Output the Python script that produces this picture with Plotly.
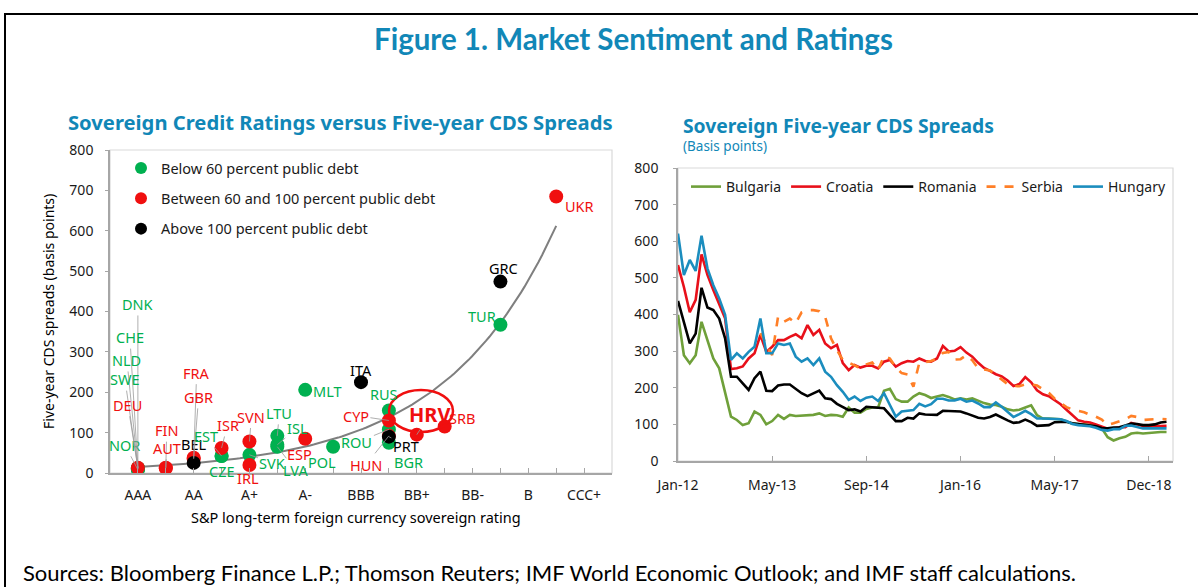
import numpy as np
import plotly.graph_objects as go

W, H = 1198, 587

# ---------------- Left chart data ----------------
rating_scale = ["AAA", "AA+", "AA", "AA-", "A+", "A", "A-", "BBB+", "BBB", "BBB-",
                "BB+", "BB", "BB-", "B+", "B", "B-", "CCC+"]
rating_tick_labels = ["AAA", "AA", "A+", "A-", "BBB", "BB+", "BB-", "B", "CCC+"]

countries = ["NOR", "DNK", "CHE", "NLD", "SWE", "DEU", "FIN", "AUT", "BEL", "FRA", "GBR",
             "EST", "CZE", "ISR", "SVN", "SVK", "IRL", "LTU", "LVA", "ISL", "ESP", "MLT",
             "POL", "ITA", "RUS", "CYP", "ROU", "HUN", "PRT", "BGR", "HRV", "SRB", "TUR",
             "GRC", "UKR"]
ratings = ["AAA", "AAA", "AAA", "AAA", "AAA", "AAA", "AA+", "AA+", "AA", "AA", "AA",
           "AA-", "AA-", "AA-", "A+", "A+", "A+", "A", "A", "A", "A-", "A-",
           "BBB+", "BBB", "BBB-", "BBB-", "BBB-", "BBB-", "BBB-", "BBB-", "BB+", "BB", "B+",
           "B+", "B-"]
cds_5y = [8, 10, 12, 10, 12, 13, 12, 13, 25, 38, 35,
          42, 42, 62, 78, 45, 20, 92, 65, 70, 85, 206,
          65, 225, 155, 130, 108, 92, 90, 75, 95, 115, 367,
          474, 685]
debt_group = ["low", "low", "low", "low", "low", "mid", "mid", "mid", "high", "mid", "mid",
              "low", "low", "mid", "mid", "low", "mid", "low", "low", "low", "mid", "low",
              "low", "high", "low", "mid", "low", "mid", "high", "low", "mid", "mid", "low",
              "high", "mid"]
group_names = {"low": "Below 60 percent public debt",
               "mid": "Between 60 and 100 percent public debt",
               "high": "Above 100 percent public debt"}

# ---------------- Right chart data ----------------
date_ticks = ["Jan-12", "May-13", "Sep-14", "Jan-16", "May-17", "Dec-18"]
bulgaria = [399, 289, 267, 289, 380, 330, 280, 253, 189, 121, 112, 98, 103, 135, 126, 100,
            109, 126, 115, 126, 123, 124, 124, 126, 130, 123, 126, 125, 121, 146, 132, 132,
            142, 146, 146, 192, 197, 169, 162, 162, 176, 185,
            180, 172, 176, 180, 175, 168, 171, 168, 171, 164, 158, 154, 153, 148, 141, 138,
            140, 146, 152, 125, 116, 116, 114, 114, 108, 102, 101, 101, 99, 95, 89, 65,
            56, 62, 66, 75, 77, 75, 77, 77, 79, 79]
croatia = [535, 475, 406, 440, 564, 508, 467, 430, 390, 251, 253, 258, 280, 294, 344, 298,
           312, 330, 330, 339, 346, 335, 371, 344, 358, 321, 308, 317, 267, 248, 262, 255,
           260, 260, 253, 271, 276, 258, 267, 273, 271, 280,
           273, 271, 280, 314, 299, 301, 311, 296, 285, 268, 254, 246, 237, 231, 220, 205,
           210, 229, 215, 193, 182, 177, 167, 155, 140, 125, 111, 107, 105, 100, 93, 88,
           89, 92, 92, 104, 100, 95, 94, 95, 96, 96]
romania = [437, 380, 321, 348, 473, 419, 412, 389, 335, 230, 230, 212, 194, 226, 244, 192,
           191, 206, 209, 209, 198, 185, 177, 185, 192, 171, 169, 156, 148, 139, 141, 135,
           148, 146, 144, 144, 126, 109, 109, 118, 116, 130,
           127, 127, 126, 137, 137, 135, 135, 130, 124, 118, 116, 120, 127, 118, 111, 104,
           106, 113, 106, 96, 96, 98, 106, 107, 107, 103, 101, 100, 97, 95, 90, 89,
           91, 92, 97, 102, 101, 98, 98, 100, 105, 107]
serbia = [None] * 14 + [349, 317, 289, 394, 380, 389, 376, 406, 412, 412, 409, 394, 335, 303,
                        276, 269, 262, 253, 264, 269, 248, 287, 280, 255, 240, 236, 203, 268,
                        270, 273, 280, 295, 298, 277, 278, 289, 275, 253, 250, 247, 235, 222,
                        210, 205, 204, 209, 209, 206, 197, 186, 170, 159, 147, 141, 137, 133,
                        126, 121, 113, 98, 103, 109, 114, 123, 120, 112, 112, 114, 115, 114]
hungary = [621, 508, 549, 519, 615, 526, 480, 444, 399, 276, 294, 280, 298, 312, 389, 294,
           294, 321, 317, 321, 285, 271, 280, 262, 280, 244, 230, 207, 189, 167, 176, 164,
           173, 176, 164, 185, 153, 121, 135, 136, 139, 156,
           149, 155, 170, 170, 165, 165, 170, 162, 165, 157, 147, 147, 160, 148, 135, 120,
           128, 137, 128, 116, 116, 116, 114, 114, 109, 101, 98, 97, 95, 91, 85, 83,
           87, 87, 96, 97, 92, 89, 89, 89, 89, 89]

# ---------------- styles / positions ----------------
TEAL = "#1187B7"
GREEN = "#00B050"
RED = "#F00F0F"
BLACK = "#000000"
group_colors = {"low": GREEN, "mid": RED, "high": BLACK}
FONT = "Noto Sans"

# label offsets (pixels, text centre relative to point) and whether a leader line is drawn
label_offsets = {
    "DNK": (0, -165, True), "CHE": (-8, -131, True), "NLD": (-11, -109, True),
    "SWE": (-13, -89, True), "DEU": (-10, -63, True), "NOR": (-13, -25, True),
    "FIN": (1, -38, True), "AUT": (1, -20, True), "FRA": (3, -85, True),
    "GBR": (5, -62, True), "BEL": (0, -19, False), "EST": (-16, -20, True),
    "CZE": (0, 15, False), "ISR": (6, -23, True), "SVN": (2, -25, True),
    "IRL": (-1, 13, False), "SVK": (23, 8, True), "LTU": (2, -23, True),
    "ISL": (20, -17, True), "LVA": (18, 23, True), "ESP": (-6, 15, False),
    "MLT": (22, 1, False), "POL": (-11, 15, False), "ITA": (0, -12, False),
    "RUS": (-5, -16, False), "CYP": (-33, -5, True), "ROU": (-32, 13, True),
    "HUN": (-23, 29, True), "PRT": (17, 9, True), "BGR": (20, 19, False),
    "HRV": (13, -20, True), "SRB": (17, -9, False), "TUR": (-18, -9, False),
    "GRC": (3, -14, False), "UKR": (23, 10, False),
}


def pxx(x):
    return x / W


def pxy(y):
    return 1 - y / H


rating_pos = [rating_scale.index(r) + 1 for r in ratings]

fig = go.Figure()

# Exponential trend line fitted to the data
coef = np.polyfit(rating_pos, np.log(cds_5y), 1)
tx = np.linspace(1, 16, 120)
ty = np.exp(coef[1]) * np.exp(coef[0] * tx)
fig.add_trace(go.Scatter(x=tx, y=ty, mode="lines", line=dict(color="#7F7F7F", width=2),
                         showlegend=False, hoverinfo="skip", xaxis="x", yaxis="y"))

for grp in ["low", "mid", "high"]:
    idx = [k for k, g in enumerate(debt_group) if g == grp]
    fig.add_trace(go.Scatter(
        x=[rating_pos[k] for k in idx], y=[cds_5y[k] for k in idx], mode="markers",
        marker=dict(size=14, color=group_colors[grp]), name=group_names[grp],
        text=[countries[k] for k in idx], legend="legend", legendgroup=grp,
        xaxis="x", yaxis="y"))

# Right chart lines
n = len(bulgaria)
xi = list(range(n))
series = [("Bulgaria", bulgaria, "#6FA03A", "solid"),
          ("Croatia", croatia, "#E8101A", "solid"),
          ("Romania", romania, "#000000", "solid"),
          ("Serbia", serbia, "#FF7F27", "dash"),
          ("Hungary", hungary, "#1B8DBE", "solid")]
for name, vals, col, dash in series:
    fig.add_trace(go.Scatter(x=xi, y=vals, mode="lines", name=name,
                             line=dict(color=col, width=2.6, dash=dash),
                             legend="legend2", xaxis="x2", yaxis="y2"))

annotations = []
for k, c in enumerate(countries):
    ax, ay, line = label_offsets[c]
    col = group_colors[debt_group[k]]
    is_hrv = c == "HRV"
    annotations.append(dict(
        x=rating_pos[k], y=cds_5y[k], xref="x", yref="y", text=("<b>%s</b>" % c) if is_hrv else c,
        showarrow=True, arrowhead=0, arrowwidth=0.8,
        arrowcolor="#9A9A9A" if line else "rgba(0,0,0,0)",
        ax=ax, ay=ay, standoff=0,
        font=dict(family=FONT, size=20 if is_hrv else 14.5, color=col)))

# Titles and texts
annotations += [
    dict(text="<b>Figure 1. Market Sentiment and Ratings</b>", x=pxx(633), y=pxy(39),
         xref="paper", yref="paper", showarrow=False, xanchor="center", yanchor="middle",
         font=dict(family="Lato", size=29.5, color=TEAL)),
    dict(text="<b>Sovereign Credit Ratings versus Five-year CDS Spreads</b>", x=pxx(66),
         y=pxy(122), xref="paper", yref="paper", showarrow=False, xanchor="left",
         yanchor="middle", font=dict(family=FONT, size=20.2, color=TEAL)),
    dict(text="<b>Sovereign Five-year CDS Spreads</b>", x=pxx(681), y=pxy(125),
         xref="paper", yref="paper", showarrow=False, xanchor="left", yanchor="middle",
         font=dict(family=FONT, size=19.3, color=TEAL)),
    dict(text="(Basis points)", x=pxx(681), y=pxy(146), xref="paper", yref="paper",
         showarrow=False, xanchor="left", yanchor="middle",
         font=dict(family=FONT, size=13.5, color=TEAL)),
    dict(text="Five-year CDS spreads (basis points)", x=pxx(48), y=pxy(312),
         xref="paper", yref="paper", showarrow=False, textangle=-90,
         xanchor="center", yanchor="middle", font=dict(family=FONT, size=14, color="#000")),
    dict(text="S&P long-term foreign currency sovereign rating", x=pxx(356), y=pxy(517),
         xref="paper", yref="paper", showarrow=False, xanchor="center", yanchor="middle",
         font=dict(family=FONT, size=14.5, color="#000")),
    dict(text="Sources: Bloomberg Finance L.P.; Thomson Reuters; IMF World Economic Outlook; and IMF staff calculations.",
         x=pxx(22), y=pxy(587), xref="paper", yref="paper", showarrow=False,
         xanchor="left", yanchor="bottom", borderpad=0,
         font=dict(family="Lato", size=22, color="#000")),
]

shapes = [
    # plot frames
    dict(type="rect", xref="x domain", yref="y domain", x0=0, x1=1, y0=0, y1=1,
         line=dict(color="#D9D9D9", width=1.2), layer="below"),
    dict(type="rect", xref="x2 domain", yref="y2 domain", x0=0, x1=1, y0=0, y1=1,
         line=dict(color="#D9D9D9", width=1.2), layer="below"),
    # HRV ellipse
    dict(type="circle", xref="paper", yref="paper", x0=pxx(389), x1=pxx(453),
         y0=pxy(432), y1=pxy(390), line=dict(color="#F00F0F", width=2.5)),
    # outer box (right and bottom edges fall outside the picture)
    dict(type="rect", xref="paper", yref="paper", x0=pxx(5), x1=1.02, y0=-0.03,
         y1=pxy(14), line=dict(color="#000", width=2), layer="above"),
    dict(type="line", xref="paper", yref="paper", x0=pxx(5), x1=1.0, y0=pxy(14.3),
         y1=pxy(14.3), line=dict(color="#000", width=1.5), layer="above"),
]

tickfont = dict(family=FONT, size=14, color="#1A1A1A")
axis_common = dict(showgrid=False, zeroline=False, showline=True, linecolor="#A6A6A6",
                   linewidth=1.6, tickcolor="#A6A6A6", tickfont=tickfont, fixedrange=True,
                   automargin=False)

fig.update_layout(
    width=W, height=H, margin=dict(l=0, r=0, t=0, b=0, pad=0, autoexpand=False),
    paper_bgcolor="white", plot_bgcolor="white",
    xaxis=dict(domain=[pxx(110), pxx(612)], range=[0, 18], anchor="y",
               tickvals=list(range(1, 18)),
               ticktext=[rating_scale[i] if rating_scale[i] in rating_tick_labels else ""
                         for i in range(17)],
               ticks="inside", ticklen=5, ticklabelstandoff=8, **axis_common),
    yaxis=dict(domain=[pxy(473), pxy(150)], range=[0, 800], dtick=100, anchor="x",
               ticks="outside", ticklen=3, ticklabelstandoff=9, **axis_common),
    xaxis2=dict(domain=[pxx(678), pxx(1173)], range=[0, 84.1], anchor="y2",
                tickvals=[0, 16, 32, 48, 64, 80], ticktext=date_ticks,
                ticks="inside", ticklen=5, ticklabelstandoff=10, **axis_common),
    yaxis2=dict(domain=[pxy(461), pxy(168)], range=[0, 800], dtick=100, anchor="x2",
                ticks="outside", ticklen=3, ticklabelstandoff=12, **axis_common),
    legend=dict(x=pxx(121), y=pxy(152), xanchor="left", yanchor="top",
                font=dict(family=FONT, size=14.5, color="#1A1A1A"), bgcolor="rgba(0,0,0,0)",
                itemsizing="constant", tracegroupgap=8.5, itemwidth=30),
    legend2=dict(x=pxx(686), y=pxy(171), xanchor="left", yanchor="top", orientation="h",
                 font=dict(family=FONT, size=14, color="#1A1A1A"), bgcolor="rgba(0,0,0,0)",
                 itemwidth=30),
    annotations=annotations, shapes=shapes, showlegend=True,
)

fig.write_html("out.html", config={"displayModeBar": False},
               post_script="document.body.style.margin='0px';document.body.style.overflow='hidden';")
